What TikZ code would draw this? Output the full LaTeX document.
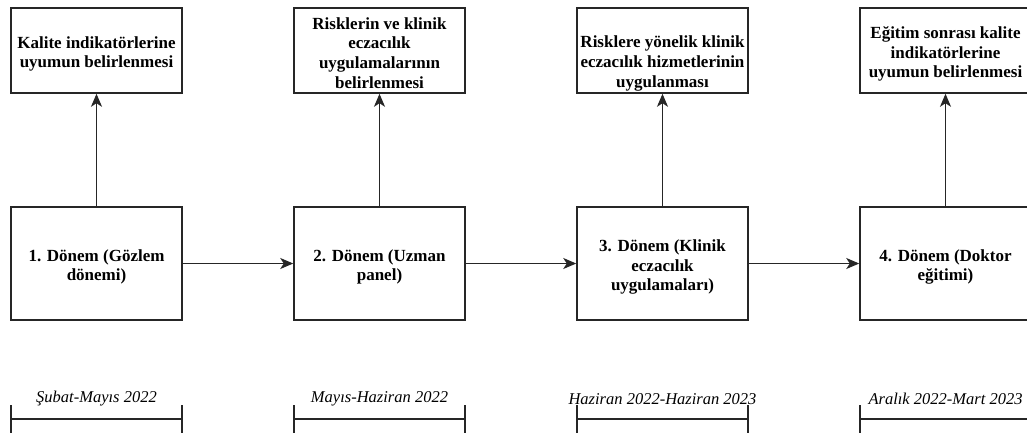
\documentclass[tikz,border=0pt]{standalone}
\usepackage{fontspec}
\setmainfont{Liberation Serif}
\usetikzlibrary{arrows.meta}
\begin{document}
\begin{tikzpicture}[x=1pt,y=-1pt,
  lin/.style={draw=black!85, line width=1.5pt},
  boxbase/.style={lin, inner sep=0pt, minimum width=171pt},
  topbox/.style={boxbase, minimum height=85pt},
  midbox/.style={boxbase, minimum height=113pt},
  txt/.style={align=center, inner sep=0pt, font=\fontsize{17}{19.8}\selectfont\bfseries},
  datetxt/.style={inner sep=0pt, font=\fontsize{16.5}{19}\selectfont\itshape},
  arr/.style={lin, -{Stealth[length=13pt, width=11pt, inset=3.5pt]}}
]
\useasboundingbox (0,0) rectangle (1027,432);
\clip (0,0) rectangle (1027,432);

% top boxes
\node[topbox, label={[txt,yshift=-3.5pt]center:{Kalite indikatörlerine\\uyumun belirlenmesi}}] (t1) at (96.5,50.5) {};
\node[topbox, label={[txt,yshift=-2.5pt]center:{Risklerin ve klinik\\eczacılık\\uygulamalarının\\belirlenmesi}}] (t2) at (379.5,50.5) {};
\node[topbox, label={[txt,yshift=-13pt]center:{Risklere yönelik klinik\\eczacılık hizmetlerinin\\uygulanması}}] (t3) at (662.5,50.5) {};
\node[topbox, label={[txt,yshift=-3.5pt]center:{Eğitim sonrası kalite\\indikatörlerine\\uyumun belirlenmesi}}] (t4) at (945.5,50.5) {};

% middle boxes
\node[midbox, label={[txt,yshift=-3.5pt]center:{1. Dönem (Gözlem\\dönemi)}}] (m1) at (96.5,263.5) {};
\node[midbox, label={[txt,yshift=-3.5pt]center:{2. Dönem (Uzman\\panel)}}] (m2) at (379.5,263.5) {};
\node[midbox, label={[txt,yshift=-3.5pt]center:{3. Dönem (Klinik\\eczacılık\\uygulamaları)}}] (m3) at (662.5,263.5) {};
\node[midbox, label={[txt,yshift=-3.5pt]center:{4. Dönem (Doktor\\eğitimi)}}] (m4) at (945.5,263.5) {};

% arrows
\draw[arr] (m1) -- (m2);
\draw[arr] (m2) -- (m3);
\draw[arr] (m3) -- (m4);
\draw[arr] (m1) -- (t1);
\draw[arr] (m2) -- (t2);
\draw[arr] (m3) -- (t3);
\draw[arr] (m4) -- (t4);

% date labels
\node[datetxt] (d1) at (96.5,399) {Şubat-Mayıs 2022};
\node[datetxt] (d2) at (379.5,399) {Mayıs-Haziran 2022};
\node[datetxt] (d3) at (662.5,399) {Haziran 2022-Haziran 2023};
\node[datetxt] (d4) at (945.5,399) {Aralık 2022-Mart 2023};

% brackets
\foreach \xl in {11,294,577,860}{
  \draw[lin] (\xl,405) -- (\xl,440);
  \draw[lin] (\xl+171,405) -- (\xl+171,440);
  \draw[lin] (\xl,419) -- (\xl+171,419);
}
\end{tikzpicture}
\end{document}
